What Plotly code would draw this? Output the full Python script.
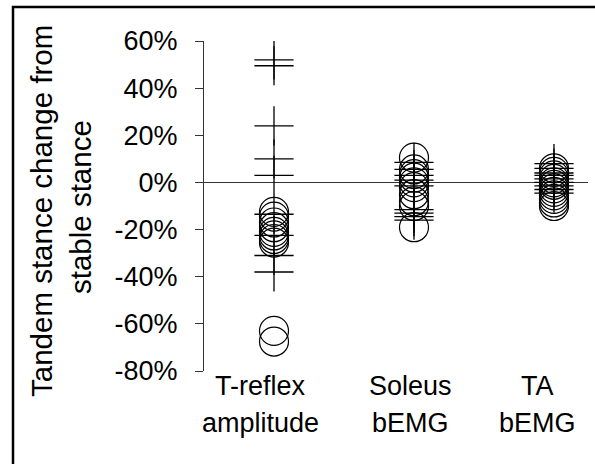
import plotly.graph_objects as go

cat_line1 = ["T-reflex", "Soleus", "TA"]
cat_line2 = ["amplitude", "bEMG", "bEMG"]

treflex_cross = [52, 49.5, 24, 10, 3, -13.5, -22.5, -31, -38]
treflex_circle = [-12.5, -14.5, -17, -19, -21, -22.5, -24, -25.5, -63, -67.5]
soleus_cross = [8.5, 5.5, 3, 1, -1.5, -11.5, -13, -14.5, -16]
soleus_circle = [10.5, 5.5, 3.5, 2, 0, -2, -5, -8, -10, -19]
ta_cross = [8, 6, 4, 3, 1.5, 0, -1.5, -3, -4.5]
ta_circle = [6, 4.5, 3, 1.5, 0, -1, -2.5, -4, -5.5, -7, -8.5, -10]

tick_vals = [60, 40, 20, 0, -20, -40, -60, -80]
tick_text = ["60%", "40%", "20%", "0%", "-20%", "-40%", "-60%", "-80%"]

FONT = "Liberation Sans, Arial, sans-serif"

# plot area in pixels
L, R, T, B = 204, 588, 41, 371
W, H = R - L, B - T


def px(x):
    return (x - L) / W


def py(y):
    return (B - y) / H


fig = go.Figure()
circles = [treflex_circle, soleus_circle, ta_circle]
crosses = [treflex_cross, soleus_cross, ta_cross]
for i, vals in enumerate(circles):
    fig.add_trace(go.Scatter(
        x=[i] * len(vals), y=vals, mode="markers",
        marker=dict(symbol="circle-open", size=29, color="black",
                    line=dict(width=1.2, color="black")),
        showlegend=False, hoverinfo="skip"))
for i, vals in enumerate(crosses):
    fig.add_trace(go.Scatter(
        x=[i] * len(vals), y=vals, mode="markers",
        marker=dict(symbol="cross-thin-open", size=28, color="black",
                    line=dict(width=1.3, color="black")),
        showlegend=False, hoverinfo="skip"))

fig.update_layout(
    width=595, height=464,
    margin=dict(l=L, r=595 - R, t=T, b=464 - B, autoexpand=False),
    paper_bgcolor="white", plot_bgcolor="white",
    font=dict(family=FONT, size=26, color="black"),
    xaxis=dict(range=[-0.5, 2.243], showticklabels=False, showgrid=False,
               zeroline=False, showline=False, ticks=""),
    yaxis=dict(range=[-80, 60], tickvals=tick_vals, ticktext=tick_text,
               showgrid=False, zeroline=True, zerolinecolor="#333333",
               zerolinewidth=1.2, showline=True, linecolor="#333333",
               linewidth=1.2, ticks="outside", ticklen=8, tickwidth=1.2,
               tickcolor="#333333", ticklabelstandoff=12,
               tickfont=dict(size=27, family=FONT)),
)

# category labels (pixel centres)
label_x = [260, 410, 537]
for i in range(3):
    fig.add_annotation(x=px(label_x[i]), xref="paper", y=py(386), yref="paper",
                       text=cat_line1[i], showarrow=False,
                       font=dict(size=27, family=FONT), xanchor="center", yanchor="middle")
    fig.add_annotation(x=px(label_x[i]), xref="paper", y=py(423), yref="paper",
                       text=cat_line2[i], showarrow=False,
                       font=dict(size=27, family=FONT), xanchor="center", yanchor="middle")

# axis title (two lines)
fig.add_annotation(x=px(41), y=py(211), xref="paper", yref="paper",
                   text="Tandem stance change from", textangle=-90, showarrow=False,
                   font=dict(size=29.5, family=FONT), xanchor="center", yanchor="middle")
fig.add_annotation(x=px(80), y=py(207), xref="paper", yref="paper",
                   text="stable stance", textangle=-90, showarrow=False,
                   font=dict(size=29.5, family=FONT), xanchor="center", yanchor="middle")

# outer border (continues beyond the right and bottom edges)
fig.add_shape(type="rect", xref="paper", yref="paper",
              x0=px(13), x1=px(700), y0=py(600), y1=py(7),
              line=dict(color="black", width=2.5), layer="below")

fig.write_html("out.html")
